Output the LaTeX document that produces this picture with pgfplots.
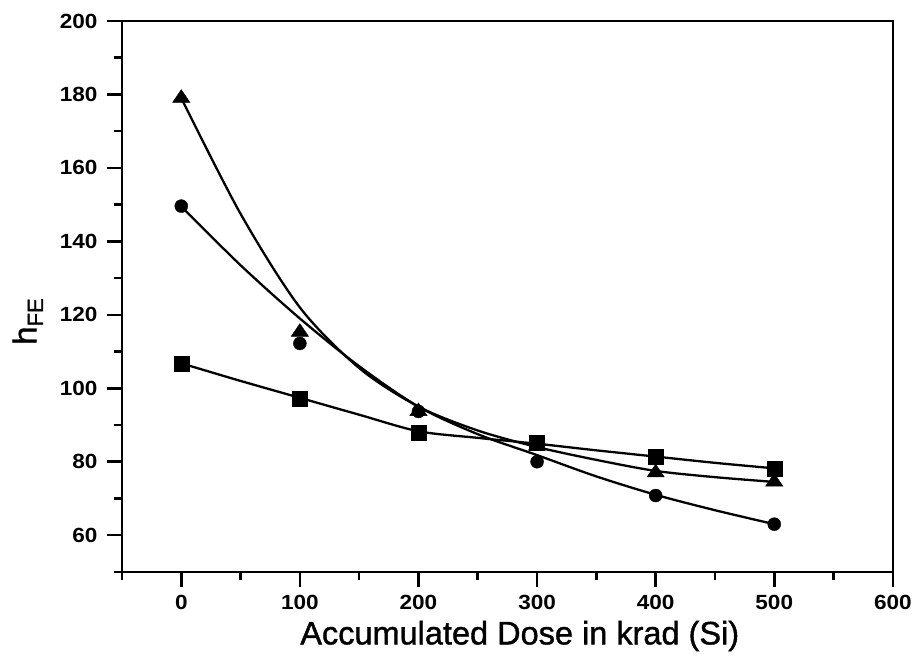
\documentclass[border=0pt]{standalone}
\usepackage{fontspec}
\setmainfont{Liberation Sans}
\newfontfamily\tickfont{Liberation Sans Bold}[FakeStretch=1.1]
\newfontfamily\labfont{Liberation Sans}[FakeBold=1.2]
\usepackage{pgfplots}
\pgfplotsset{compat=1.18}
\begin{document}
\begin{tikzpicture}
\begin{axis}[
  scale only axis, width=771pt, height=551pt,
  xmin=-50, xmax=600, ymin=50, ymax=200,
  xtick={0,100,...,600}, ytick={60,80,...,200},
  minor xtick={-50,50,150,250,350,450,550},
  minor ytick={50,70,...,190},
  tick align=outside, xtick pos=bottom, ytick pos=left,
  major tick length=15pt, minor tick length=8pt,
  axis line style={line width=2.6pt},
  every tick/.style={black, line width=2.6pt},
  /pgf/number format/assume math mode=true,
  ticklabel style={font=\tickfont\fontsize{20.5}{20.5}\selectfont},
  xticklabel style={yshift=-5pt},
  yticklabel style={xshift=-6pt},
  xlabel={Accumulated Dose in krad (Si)},
  ylabel={h\textsubscript{\fontsize{22}{22}\selectfont FE}},
  xlabel style={font=\labfont\fontsize{32.5}{32.5}\selectfont, at={(ticklabel cs:0.516)}, anchor=north, yshift=-4pt},
  ylabel style={font=\labfont\fontsize{33}{33}\selectfont, at={(ticklabel cs:0.455)}, anchor=south, yshift=10pt},
  clip=false,
]
% fitted curves
\addplot[black, line width=2.3pt, smooth, no marks] coordinates {
(0,179) (50,147.5) (100,122) (150,105.5) (200,95) (250,88.5) (300,84) (350,80.5) (400,77.5) (450,75.8) (500,74.5)};
\addplot[black, line width=2.3pt, smooth, no marks] coordinates {
(0,149.5) (50,133.5) (100,119) (150,106) (200,95) (250,87.5) (300,81.8) (350,76) (400,71) (450,66.8) (500,63)};
\addplot[black, line width=2.3pt, smooth, no marks] coordinates {
(0,106.8) (50,102) (100,97.4) (150,92.8) (200,88.3) (250,86.5) (300,84.9) (350,83.1) (400,81.4) (450,79.7) (500,78.2)};
% data points
\addplot[only marks, mark=*, mark size=6.5pt, black] coordinates {
(0,149.6) (100,112.2) (200,93.7) (300,80) (400,70.8) (500,63)};
\addplot[only marks, mark=triangle*, mark size=10pt, black, mark options={yscale=0.85}] coordinates {
(0,179) (100,115.3) (200,93.7) (300,84.3) (400,77) (500,74.5)};
\addplot[only marks, mark=square*, mark size=7.5pt, black] coordinates {
(0,106.8) (100,97.2) (200,88) (300,85.3) (400,81.3) (500,78.2)};
\end{axis}
\path (current axis.south west) ++(-122pt,-84pt) rectangle ++(915pt,656pt);
\end{tikzpicture}
\end{document}
